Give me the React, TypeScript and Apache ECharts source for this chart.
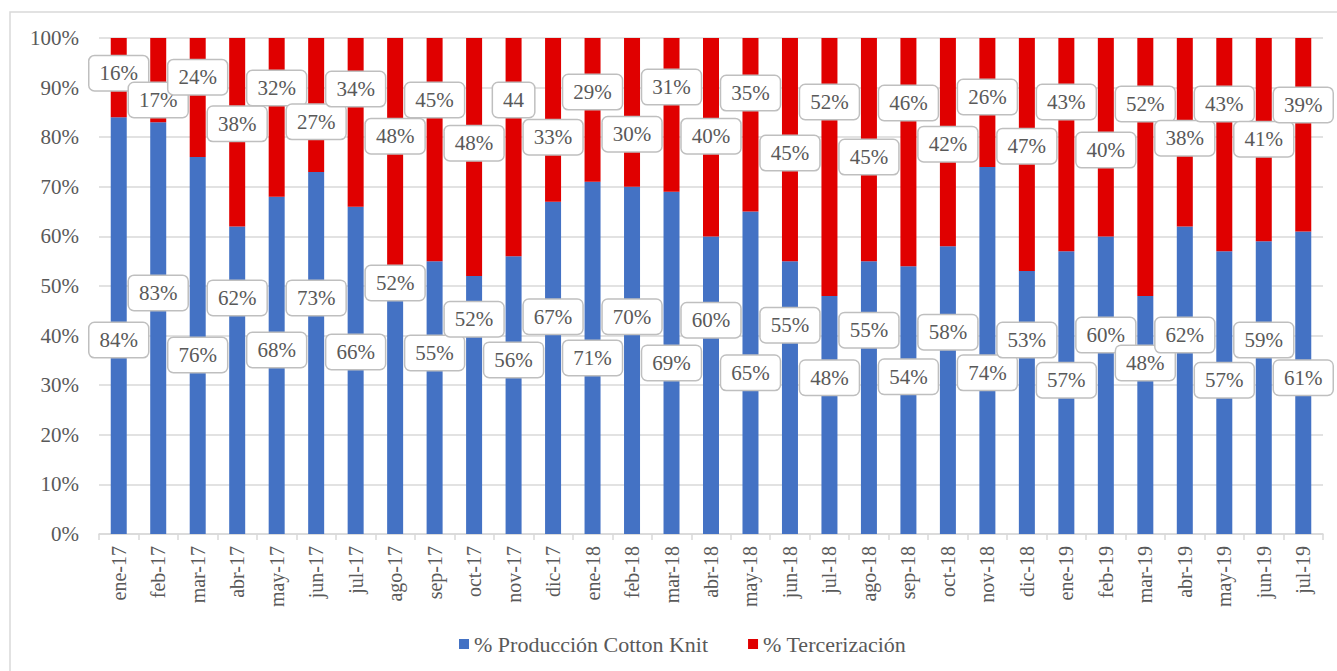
import React, { useEffect, useRef } from "react";
import * as echarts from "echarts";

// Monthly categories
const categories = [
  "ene-17", "feb-17", "mar-17", "abr-17", "may-17", "jun-17", "jul-17", "ago-17", "sep-17", "oct-17", "nov-17", "dic-17",
  "ene-18", "feb-18", "mar-18", "abr-18", "may-18", "jun-18", "jul-18", "ago-18", "sep-18", "oct-18", "nov-18", "dic-18",
  "ene-19", "feb-19", "mar-19", "abr-19", "may-19", "jun-19", "jul-19",
];

// Share of in-house production (%)
const productionShare = [
  84, 83, 76, 62, 68, 73, 66, 52, 55, 52, 56, 67,
  71, 70, 69, 60, 65, 55, 48, 55, 54, 58, 74, 53,
  57, 60, 48, 62, 57, 59, 61,
];

// Share of outsourced production (%)
const outsourcingShare = [
  16, 17, 24, 38, 32, 27, 34, 48, 45, 48, 44, 33,
  29, 30, 31, 40, 35, 45, 52, 45, 46, 42, 26, 47,
  43, 40, 52, 38, 43, 41, 39,
];

// Months whose outsourcing label is written without the percent sign
const plainOutsourcingLabels = ["nov-17"];

// Height (on the % axis) where each callout box sits
const productionLabelAt = [
  39.1, 48.6, 36.1, 47.6, 37.1, 47.6, 36.7, 50.6, 36.5, 43.3, 35.1, 43.8,
  35.5, 43.8, 34.5, 43.1, 32.5, 42.1, 31.5, 41.1, 31.7, 40.7, 32.5, 39.1,
  31.0, 40.1, 34.5, 40.1, 31.0, 39.1, 31.5,
];
const outsourcingLabelAt = [
  92.9, 87.5, 92.1, 82.7, 89.9, 83.1, 89.7, 80.2, 87.5, 78.8, 87.5, 80.0,
  89.1, 80.6, 90.1, 80.2, 88.9, 76.8, 87.1, 76.0, 86.9, 78.6, 88.1, 78.2,
  87.1, 77.4, 86.7, 79.8, 86.7, 79.6, 86.5,
];

const yTicks = { min: 0, max: 100, interval: 10 };

const BLUE = "#4472c4";
const RED = "#e00000";
const TEXT = "#595959";
const GRID = "#d9d9d9";
const FONT = "Liberation Serif";

const calloutLabel = {
  show: true,
  position: "inside" as const,
  color: TEXT,
  fontFamily: FONT,
  fontSize: 21,
  opacity: 1,
  backgroundColor: "#ffffff",
  borderColor: "#bfbfbf",
  borderWidth: 1.5,
  borderRadius: 5,
  padding: [7, 10, 6, 10],
};

export default function App() {
  const ref = useRef<HTMLDivElement>(null);

  useEffect(() => {
    if (!ref.current) return;
    const chart = echarts.init(ref.current, null, { renderer: "svg" });

    const productionCallouts = categories.map((c, i) => [c, productionLabelAt[i], productionShare[i]]);
    const outsourcingCallouts = categories.map((c, i) => [c, outsourcingLabelAt[i], outsourcingShare[i]]);

    chart.setOption({
      animation: false,
      backgroundColor: "#ffffff",
      textStyle: { fontFamily: FONT },
      graphic: [
        {
          type: "rect",
          shape: { x: 10, y: 12, width: 1340, height: 680 },
          style: { fill: "none", stroke: GRID, lineWidth: 1.5 },
          silent: true,
        },
      ],
      grid: { left: 99, right: 14, top: 38, bottom: 137 },
      legend: {
        data: ["% Producción Cotton Knit", "% Tercerización"],
        top: 628,
        left: 454,
        itemWidth: 10,
        itemHeight: 10,
        itemGap: 40,
        icon: "rect",
        textStyle: { color: TEXT, fontFamily: FONT, fontSize: 22 },
      },
      xAxis: {
        type: "category",
        data: categories,
        boundaryGap: true,
        axisLine: { lineStyle: { color: GRID, width: 1.5 } },
        axisTick: { show: true, length: 6, interval: 0, lineStyle: { color: GRID, width: 1.5 } },
        axisLabel: {
          interval: 0,
          rotate: 90,
          margin: 12,
          color: TEXT,
          fontFamily: FONT,
          fontSize: 20,
        },
      },
      yAxis: {
        type: "value",
        min: yTicks.min,
        max: yTicks.max,
        interval: yTicks.interval,
        axisLine: { show: false },
        axisTick: { show: false },
        splitLine: { lineStyle: { color: GRID, width: 1.5 } },
        axisLabel: {
          formatter: "{value}%",
          margin: 20,
          color: TEXT,
          fontFamily: FONT,
          fontSize: 21,
        },
      },
      series: [
        {
          name: "% Producción Cotton Knit",
          type: "bar",
          stack: "total",
          barWidth: 16,
          itemStyle: { color: BLUE },
          data: productionShare,
        },
        {
          name: "% Tercerización",
          type: "bar",
          stack: "total",
          barWidth: 16,
          itemStyle: { color: RED },
          data: outsourcingShare,
        },
        {
          name: "production-callouts",
          type: "scatter",
          symbolSize: 0,
          z: 10,
          silent: true,
          itemStyle: { opacity: 1 },
          data: productionCallouts,
          label: {
            ...calloutLabel,
            formatter: (p: any) => `${p.value[2]}%`,
          },
        },
        {
          name: "outsourcing-callouts",
          type: "scatter",
          symbolSize: 0,
          z: 10,
          silent: true,
          itemStyle: { opacity: 1 },
          data: outsourcingCallouts,
          label: {
            ...calloutLabel,
            formatter: (p: any) =>
              plainOutsourcingLabels.includes(p.value[0]) ? `${p.value[2]}` : `${p.value[2]}%`,
          },
        },
      ],
    });

    return () => chart.dispose();
  }, []);

  return (
    <div
      ref={ref}
      style={{ position: "absolute", left: 0, top: 0, width: 1337, height: 671 }}
    />
  );
}
